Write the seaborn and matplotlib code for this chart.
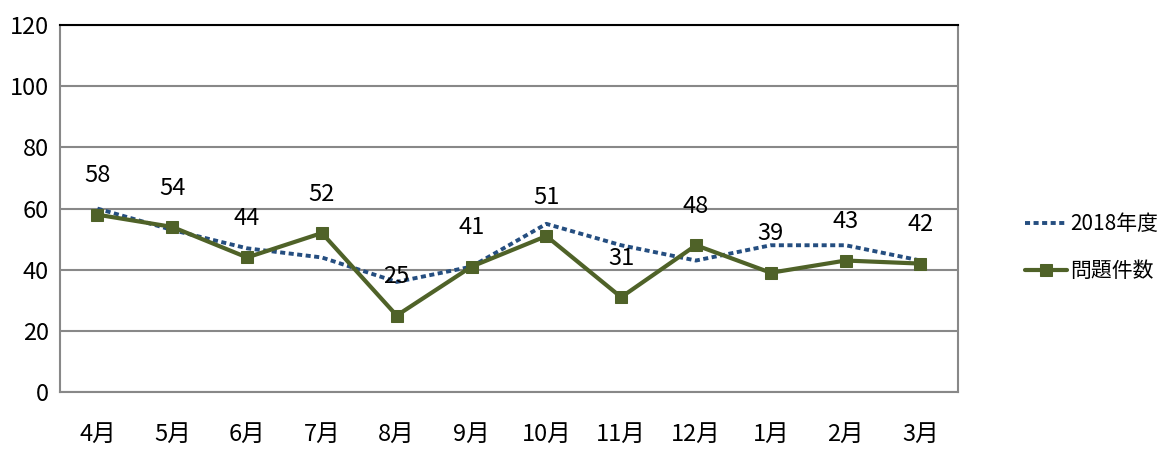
import pandas as pd
import matplotlib.pyplot as plt
import seaborn as sns

# Data
months = ['4月', '5月', '6月', '7月', '8月', '9月', '10月', '11月', '12月', '1月', '2月', '3月']
prev_year = [60, 53, 47, 44, 36, 41, 55, 48, 43, 48, 48, 43]
issues = [58, 54, 44, 52, 25, 41, 51, 31, 48, 39, 43, 42]
yticks = [0, 20, 40, 60, 80, 100, 120]

df = pd.DataFrame({'pos': range(len(months)), 'month': months,
                   '2018年度': prev_year, '問題件数': issues})

sns.set_style('white')
plt.rcParams['font.family'] = ['Noto Sans CJK JP', 'DejaVu Sans']
plt.rcParams['text.color'] = 'black'
plt.rcParams['xtick.color'] = 'black'
plt.rcParams['ytick.color'] = 'black'

fig = plt.figure(figsize=(11.63, 4.5), dpi=100)
ax = fig.add_axes([0.0516, 0.129, 0.772, 0.815])

sns.lineplot(data=df, x='pos', y='2018年度', ax=ax, color='#254E80', linewidth=2.8,
             linestyle=(0, (1.3, 0.9)), label='2018年度')
sns.lineplot(data=df, x='pos', y='問題件数', ax=ax, color='#4F6228', linewidth=3,
             marker='s', markersize=9, markeredgecolor='#4F6228', label='問題件数')

# Data labels for issues
for x, v in zip(df['pos'], df['問題件数']):
    ax.annotate(str(v), (x, v), xytext=(0, 28), textcoords='offset points',
                ha='center', va='center', fontsize=17)

ax.set_xlim(-0.5, len(months) - 0.5)
ax.set_ylim(0, 120)
ax.set_yticks(yticks)
ax.set_yticklabels([str(t) for t in yticks], fontsize=17)
ax.set_xticks(range(len(months)))
ax.set_xticklabels(months, fontsize=17)
ax.tick_params(axis='x', which='major', length=0, pad=22)
ax.set_xticks([i - 0.5 for i in range(len(months) + 1)], minor=True)
ax.tick_params(axis='x', which='minor', length=8, width=1.2, color='#888888', direction='out')
ax.tick_params(axis='y', length=0, pad=8)
ax.set_xlabel('')
ax.set_ylabel('')

ax.grid(axis='y', color='#888888', linewidth=1.5)
ax.set_axisbelow(True)
for side in ['left', 'right', 'bottom']:
    ax.spines[side].set_color('#888888')
    ax.spines[side].set_linewidth(1.5)
ax.spines['top'].set_color('#000000')
ax.spines['top'].set_linewidth(1.5)

ax.get_legend().remove()
handles, labels = ax.get_legend_handles_labels()
fig.legend(handles, labels, loc='center left', bbox_to_anchor=(0.878, 0.45),
           frameon=False, fontsize=15, handlelength=2.0, handletextpad=0.15,
           labelspacing=1.2, borderpad=0.2, borderaxespad=0.0)

plt.savefig('out.png', dpi=100)
